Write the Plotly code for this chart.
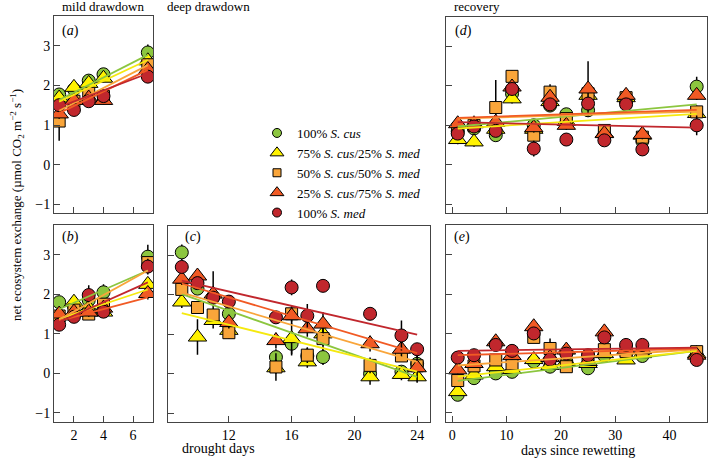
import plotly.graph_objects as go

# ---------------- data ----------------
series_names = [
    "100% <i>S. cus</i>",
    "75% <i>S. cus</i>/25% <i>S. med</i>",
    "50% <i>S. cus</i>/50% <i>S. med</i>",
    "25% <i>S. cus</i>/75% <i>S. med</i>",
    "100% <i>S. med</i>",
]

days_ab = [1, 2, 3, 4, 7]
days_c = [9, 10, 11, 12, 15, 16, 17, 18, 21, 23, 24]
days_de = [1, 4, 8, 11, 15, 18, 21, 25, 28, 32, 35, 45]

# panel (a) mild drawdown, panel (b) mild drawdown
nee_a = [
    [1.77, 1.90, 2.12, 2.28, 2.83],
    [1.68, 1.95, 2.05, 2.18, 2.62],
    [1.10, 1.60, 1.80, 1.72, 2.52],
    [1.28, 1.62, 1.68, 1.62, 2.40],
    [1.50, 1.38, 1.60, 1.73, 2.22],
]
err_a = [
    [0.10, 0.10, 0.12, 0.15, 0.20],
    [0.10, 0.15, 0.12, 0.10, 0.15],
    [0.50, 0.12, 0.10, 0.10, 0.15],
    [0.12, 0.10, 0.10, 0.10, 0.12],
    [0.10, 0.10, 0.12, 0.10, 0.15],
]
nee_b = [
    [1.80, 1.70, 1.85, 2.05, 2.95],
    [1.45, 1.80, 1.65, 1.55, 2.25],
    [1.45, 1.60, 1.50, 1.75, 2.80],
    [1.50, 1.55, 1.55, 1.65, 2.02],
    [1.23, 1.43, 1.98, 1.56, 2.70],
]
err_b = [
    [0.12, 0.12, 0.15, 0.20, 0.30],
    [0.12, 0.12, 0.12, 0.12, 0.15],
    [0.12, 0.12, 0.12, 0.12, 0.15],
    [0.12, 0.12, 0.12, 0.12, 0.15],
    [0.12, 0.12, 0.25, 0.15, 0.20],
]
# panel (c) deep drawdown
nee_c = [
    [3.08, 2.16, 1.95, 1.52, 0.42, 0.76, 0.45, 0.42, 0.00, 0.05, 0.25],
    [1.82, 0.93, 1.35, 1.10, 0.15, 0.89, 0.30, 1.01, -0.08, -0.02, -0.08],
    [2.14, 1.68, 1.49, 1.04, 0.17, 1.52, 0.47, 0.89, 0.21, 0.45, 0.20],
    [2.40, 2.48, 2.02, 1.30, 0.84, 1.47, 1.14, 1.26, 0.76, 0.62, 0.15],
    [2.71, 2.30, 1.93, 1.83, 1.43, 2.19, 1.47, 2.23, 1.52, 0.97, 0.62],
]
err_c = [
    [0.20, 0.15, 0.65, 0.15, 0.20, 0.30, 0.20, 0.20, 0.15, 0.15, 0.20],
    [0.15, 0.45, 0.20, 0.15, 0.15, 0.40, 0.15, 0.30, 0.20, 0.15, 0.15],
    [0.15, 0.15, 0.15, 0.15, 0.35, 0.20, 0.20, 0.30, 0.20, 0.15, 0.15],
    [0.15, 0.15, 0.15, 0.15, 0.20, 0.20, 0.20, 0.30, 0.20, 0.20, 0.35],
    [0.15, 0.15, 0.15, 0.15, 0.15, 0.20, 0.30, 0.15, 0.15, 0.38, 0.15],
]
# panel (d) recovery
nee_d = [
    [0.85, 0.92, 0.75, 1.80, 1.00, 1.50, 1.28, 1.38, 0.75, 1.60, 0.60, 1.98],
    [0.64, 0.58, 0.90, 1.67, 0.90, 1.60, 1.10, 1.76, 0.80, 1.70, 0.75, 1.30],
    [0.90, 1.00, 1.45, 2.24, 0.75, 1.84, 1.17, 1.80, 0.87, 1.70, 0.70, 1.34],
    [1.04, 1.04, 1.08, 1.97, 0.94, 1.71, 1.00, 1.92, 0.79, 1.76, 0.77, 1.76],
    [0.79, 0.97, 0.86, 1.92, 0.41, 1.53, 0.64, 1.55, 0.62, 1.53, 0.39, 1.00],
]
err_d = [
    [0.12, 0.12, 0.12, 0.12, 0.12, 0.12, 0.12, 0.12, 0.12, 0.12, 0.12, 0.25],
    [0.12, 0.12, 0.12, 0.12, 0.12, 0.12, 0.12, 0.12, 0.12, 0.12, 0.12, 0.12],
    [0.12, 0.12, 0.70, 0.15, 0.12, 0.20, 0.12, 0.12, 0.12, 0.12, 0.12, 0.12],
    [0.12, 0.12, 0.12, 0.20, 0.12, 0.15, 0.12, 0.70, 0.12, 0.12, 0.12, 0.12],
    [0.12, 0.12, 0.12, 0.15, 0.20, 0.12, 0.15, 0.12, 0.12, 0.12, 0.15, 0.25],
]
# panel (e) recovery
nee_e = [
    [-0.54, -0.12, 0.00, 0.04, 0.30, 0.17, 0.30, 0.13, 0.45, 0.50, 0.44, 0.45],
    [-0.46, -0.04, 0.17, 0.10, 0.35, 0.20, 0.30, 0.25, 0.50, 0.34, 0.50, 0.50],
    [-0.18, 0.19, 0.34, 0.24, 0.91, 0.63, 0.17, 0.40, 0.60, 0.55, 0.55, 0.55],
    [0.09, 0.25, 0.80, 0.45, 1.18, 0.40, 0.59, 0.30, 1.05, 0.60, 0.60, 0.46],
    [0.40, 0.46, 0.72, 0.57, 1.01, 0.35, 0.50, 0.46, 0.91, 0.72, 0.72, 0.34],
]
err_e = [
    [0.10, 0.10, 0.10, 0.10, 0.10, 0.10, 0.10, 0.10, 0.10, 0.10, 0.10, 0.10],
    [0.10, 0.10, 0.10, 0.10, 0.10, 0.10, 0.10, 0.10, 0.10, 0.10, 0.10, 0.10],
    [0.12, 0.10, 0.10, 0.10, 0.10, 0.25, 0.10, 0.10, 0.10, 0.10, 0.10, 0.10],
    [0.10, 0.10, 0.10, 0.10, 0.10, 0.10, 0.10, 0.10, 0.10, 0.10, 0.10, 0.10],
    [0.10, 0.10, 0.10, 0.10, 0.10, 0.10, 0.10, 0.10, 0.10, 0.10, 0.10, 0.10],
]

# fitted regression lines (value at first and last day of each phase)
fit_days_ab = [1, 7]
fit_days_c = [9, 24]
fit_days_de = [1, 45]
fit_a = [[1.63, 2.77], [1.59, 2.64], [1.36, 2.51], [1.30, 2.39], [1.45, 2.30]]
fit_b = [[1.62, 2.60], [1.38, 2.12], [1.36, 2.60], [1.33, 1.92], [1.30, 2.30]]
fit_c = [[2.02, -0.08], [1.54, 0.05], [2.06, 0.30], [2.29, 0.52], [2.36, 0.99]]
fit_d = [[0.97, 1.53], [0.92, 1.29], [1.17, 1.35], [1.19, 1.39], [1.08, 0.94]]
fit_e = [[-0.19, 0.57], [-0.08, 0.57], [0.20, 0.61], [0.46, 0.63], [0.57, 0.65]]

# ---------------- style ----------------
W, H = 708, 464
FONT = '"Liberation Serif", "Times New Roman", Times, "DejaVu Serif", serif'
fill_colors = ["#8cc63f", "#fff200", "#f9a53a", "#f15a24", "#c1272d"]
line_colors = ["#8cc63f", "#f5e90f", "#f9a53a", "#f15a24", "#c1272d"]
symbols = ["circle", "triangle-up", "square", "triangle-up", "circle"]
msizes = [13, 16, 12, 16, 13]
leg_sizes = [9, 12, 8, 12, 9]

# panel boxes in pixels: left, right, top, bottom
boxes = {
    "a": (54, 153, 16, 213),
    "b": (54, 153, 225, 421.7),
    "c": (168.3, 430, 226, 421.7),
    "d": (446, 707, 16.7, 213),
    "e": (446, 707, 225, 421.7),
}
axis_ids = {"a": "", "b": "2", "c": "3", "d": "4", "e": "5"}
xranges = {"a": [0.65, 7.35], "b": [0.65, 7.35], "c": [8.14, 24.82],
           "d": [-1.16, 46.9], "e": [-1.16, 46.9]}
xticks = {"a": [2, 4, 6], "b": [2, 4, 6], "c": [12, 16, 20, 24],
          "d": [0, 10, 20, 30, 40], "e": [0, 10, 20, 30, 40]}
show_xlab = {"a": False, "b": True, "c": True, "d": False, "e": True}
show_ylab = {"a": True, "b": True, "c": False, "d": False, "e": False}
yrange = [-1.22, 3.75]

panels = {
    "a": (days_ab, nee_a, err_a, fit_days_ab, fit_a),
    "b": (days_ab, nee_b, err_b, fit_days_ab, fit_b),
    "c": (days_c, nee_c, err_c, fit_days_c, fit_c),
    "d": (days_de, nee_d, err_d, fit_days_de, fit_d),
    "e": (days_de, nee_e, err_e, fit_days_de, fit_e),
}

fig = go.Figure()

for key, (days, vals, errs, fdays, fits) in panels.items():
    ax = axis_ids[key]
    for i in range(5):
        fig.add_trace(go.Scatter(
            x=days, y=vals[i], mode="markers", xaxis="x" + ax, yaxis="y" + ax,
            marker=dict(symbol=symbols[i], size=msizes[i], color=fill_colors[i],
                        line=dict(color="black", width=1)),
            error_y=dict(type="data", array=errs[i], color="black",
                         thickness=1.5, width=0),
            showlegend=False, hoverinfo="skip"))
    for i in range(5):
        fig.add_trace(go.Scatter(
            x=fdays, y=fits[i], mode="lines", xaxis="x" + ax, yaxis="y" + ax,
            line=dict(color=line_colors[i], width=1.8),
            showlegend=False, hoverinfo="skip"))

# legend entries
for i in range(5):
    fig.add_trace(go.Scatter(
        x=[None], y=[None], mode="markers", name=series_names[i],
        marker=dict(symbol=symbols[i], size=leg_sizes[i], color=fill_colors[i],
                    line=dict(color="black", width=1))))

layout = dict(
    width=W, height=H, margin=dict(l=0, r=0, t=0, b=0),
    paper_bgcolor="white", plot_bgcolor="white",
    font=dict(family=FONT, size=14, color="black"),
    legend=dict(x=257 / W, y=1 - 118 / H, xanchor="left", yanchor="top",
                bgcolor="rgba(0,0,0,0)", font=dict(size=13, family=FONT),
                itemsizing="trace", tracegroupgap=0),
)

axis_common = dict(showline=True, mirror=True, linecolor="#444", linewidth=1,
                   ticks="inside", ticklen=6, tickcolor="#444", tickwidth=1.2,
                   showgrid=False, zeroline=False,
                   tickfont=dict(family=FONT, size=14, color="black"))

for key, (l, r, t, b) in boxes.items():
    ax = axis_ids[key]
    layout["xaxis" + ax] = dict(
        axis_common, domain=[l / W, r / W], anchor="y" + ax,
        range=xranges[key], tickvals=xticks[key],
        showticklabels=show_xlab[key])
    layout["yaxis" + ax] = dict(
        axis_common, domain=[1 - b / H, 1 - t / H], anchor="x" + ax,
        range=yrange, tickvals=[-1, 0, 1, 2, 3],
        showticklabels=show_ylab[key])

fig.update_layout(**layout)

ann = []
def txt(text, x, y, size=13, xanchor="center", angle=0):
    ann.append(dict(text=text, x=x / W, y=1 - y / H, xref="paper", yref="paper",
                    showarrow=False, xanchor=xanchor, yanchor="middle",
                    textangle=angle, font=dict(family=FONT, size=size, color="black")))

txt("mild drawdown", 103, 7, 13)
txt("deep drawdown", 165, 7, 13, xanchor="left")
txt("recovery", 452, 7, 13, xanchor="left")
txt("(<i>a</i>)", 60, 31, 14, xanchor="left")
txt("(<i>b</i>)", 60, 237, 14, xanchor="left")
txt("(<i>c</i>)", 183, 237, 14, xanchor="left")
txt("(<i>d</i>)", 453, 31, 14, xanchor="left")
txt("(<i>e</i>)", 452, 237, 14, xanchor="left")
txt("drought days", 218, 448, 14)
txt("days since rewetting", 578, 450, 14)
txt("net ecosystem exchange (µmol CO<sub>2</sub> m<sup>−2</sup> s<sup>−1</sup>)",
    17, 205, 13, angle=-90)
fig.update_layout(annotations=ann)

fig.write_html("out.html", config={"displayModeBar": False},
               post_script="document.body.style.margin='0px';document.body.style.overflow='hidden';")
